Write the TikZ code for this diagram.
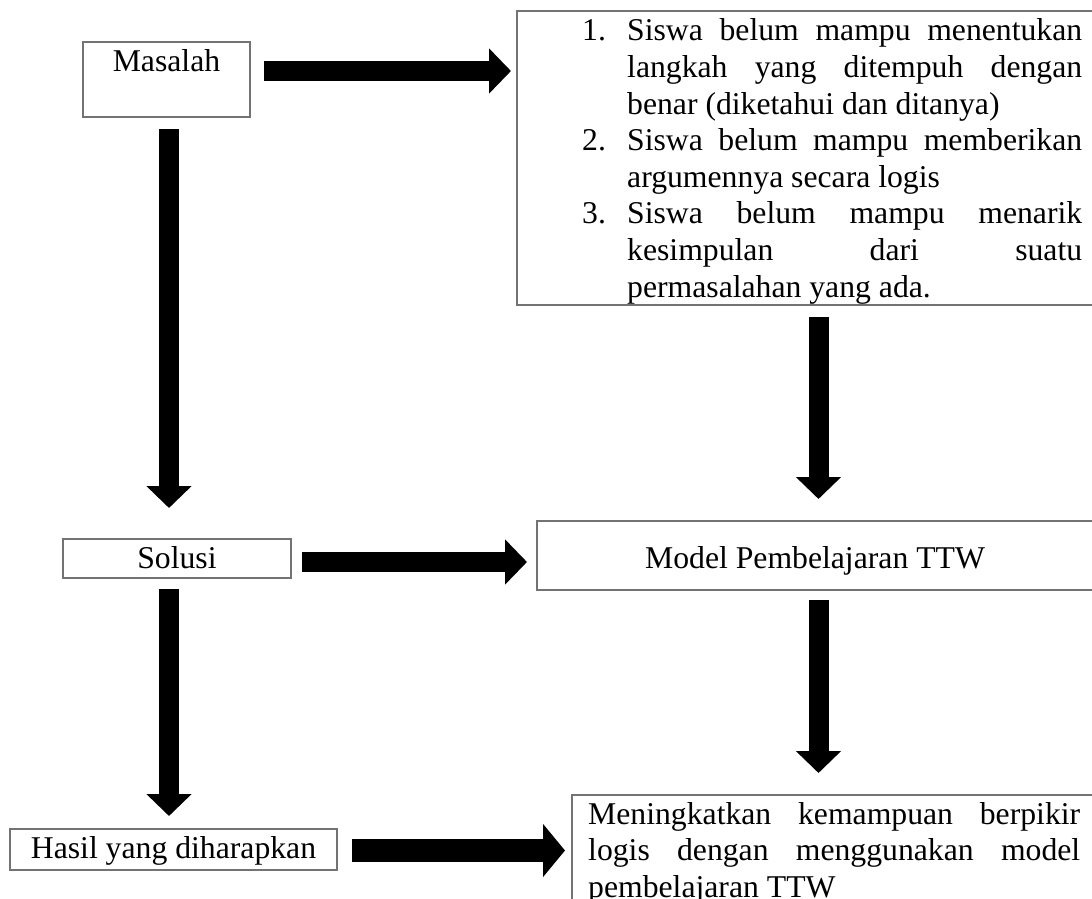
\documentclass[tikz,border=0pt]{standalone}
\usepackage{fontspec}
\setmainfont{Liberation Serif}
\usetikzlibrary{arrows.meta,calc}
\tikzset{
  box/.style={draw=black!55, line width=1.2pt, inner sep=0pt, outer sep=0pt, anchor=north west},
  fat/.style={line width=20pt, -{Triangle[width=44pt,length=22pt]}},
  fatter/.style={line width=23pt, -{Triangle[width=52pt,length=22pt]}},
  txt/.style={inner sep=0pt, anchor=base},
  txtw/.style={inner sep=0pt, anchor=base west},
  every node/.style={font=\fontsize{31.7}{36.6}\selectfont},
}
\newcommand{\numl}[2]{\hbox{\makebox[45pt][l]{#1}\makebox[455pt][s]{#2}}}
\newcommand{\contl}[1]{\hbox{\hspace*{45pt}\makebox[455pt][s]{#1}}}
\newcommand{\lastl}[1]{\hbox{\hspace*{45pt}#1}}
\begin{document}
\begin{tikzpicture}[x=1pt,y=-1pt]
\useasboundingbox (0,0) rectangle (1092,899);
\clip (0,0) rectangle (1092,899);

% boxes
\node[box, minimum width=167pt, minimum height=75pt] (mas) at (83,42) {};
\node[txt] (mast) at (166.5,71) {Masalah};

\node[box, minimum width=590pt, minimum height=294pt] (prob) at (517,11) {};
\node[txtw] (probt) at (582,41) {\vtop{%
\numl{1.}{Siswa belum mampu menentukan}
\contl{langkah yang ditempuh dengan}
\lastl{benar (diketahui dan ditanya)}
\numl{2.}{Siswa belum mampu memberikan}
\lastl{argumennya secara logis}
\numl{3.}{Siswa belum mampu menarik}
\contl{kesimpulan dari suatu}
\lastl{permasalahan yang ada.}}};

\node[box, minimum width=228pt, minimum height=39pt] (sol) at (63,539) {};
\node[txt] (solt) at (177,568) {Solusi};

\node[box, minimum width=560pt, minimum height=69pt] (model) at (537,521) {};
\node[txt] (modelt) at (815,568) {Model Pembelajaran TTW};

\node[box, minimum width=327pt, minimum height=41pt] (hasil) at (10,829) {};
\node[txt] (hasilt) at (173.5,858) {Hasil yang diharapkan};

\node[box, minimum width=540pt, minimum height=150pt] (goal) at (572,795) {};
\node[txtw] (goalt) at (588,824) {\vtop{%
\hbox{\makebox[492pt][s]{Meningkatkan kemampuan berpikir}}
\hbox{\makebox[492pt][s]{logis dengan menggunakan model}}
\hbox{pembelajaran TTW}}};

% arrows
\draw[fat] ($(mas.east)+(14,-8.5)$) -- ($(prob.north west)+(-6,60)$);
\draw[fat] ($(mas.south)+(2.5,12)$) -- ($(sol.north)+(-8,-31)$);
\draw[fat] ($(prob.south west)+(301.5,12)$) -- ($(model.north west)+(281.5,-22)$);
\draw[fat] ($(sol.east)+(11,3.5)$) -- ($(model.west)+(-10,6.5)$);
\draw[fat] ($(sol.south)+(-8,11)$) -- ($(hasil.north)+(-4.5,-13)$);
\draw[fat] ($(model.south west)+(281.5,10)$) -- ($(goal.north west)+(246.5,-22)$);
\draw[fatter] ($(hasil.east)+(15,1)$) -- ($(goal.west)+(-7,-19.5)$);
\end{tikzpicture}
\end{document}
